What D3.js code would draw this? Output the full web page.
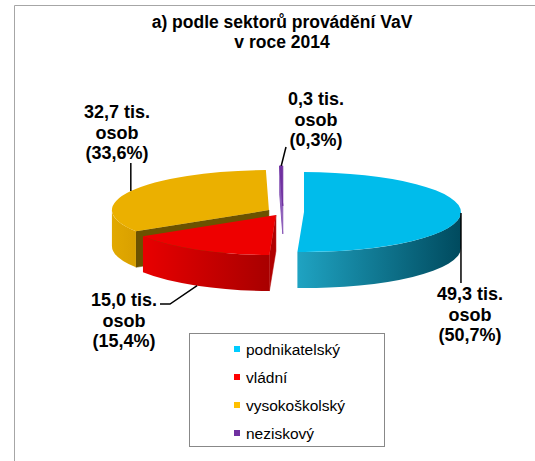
<!DOCTYPE html>
<html>
<head>
<meta charset="utf-8">
<script src="https://cdn.jsdelivr.net/npm/d3@7"></script>
<style>
  body { margin: 0; background: #fff; }
  text { font-family: Arial, "Liberation Sans", sans-serif; }
</style>
</head>
<body>
<div class="container"></div>
<script>
// data
var sectors = ["podnikatelský", "vládní", "vysokoškolský", "neziskový"];
var values = [49.3, 15.0, 32.7, 0.3];          // tis. osob
var topColors = ["#00BCEB", "#EE0000", "#EBB000", "#7030A0"];
var legendColors = ["#00CCFF", "#FF0000", "#FFC000", "#7030A0"];
var wallLeft = ["#1FA3C2", "#E80000", "#E2A900", "#7030A0"];
var wallRight = ["#004A5E", "#A80000", "#D9A000", "#5A2080"];
var cutColors = ["#00607A", "#B00000", "#6B5200", "#8A5AB8"];
var explode = [21, 14, 16, 24];

var width = 535, height = 461;
var cx = 283, cy = 212, rx = 157, ry = 40, depth = 36;

var svg = d3.select(".container").append("svg")
    .attr("width", width).attr("height", height);

// frame
svg.append("path")
    .attr("d", "M14.5," + height + "V5.5H" + width)
    .attr("fill", "none").attr("stroke", "#A6A6A6").attr("stroke-width", 1);

// title
var title = svg.append("text").attr("text-anchor", "middle")
    .style("font-weight", "bold").style("font-size", "17.5px").attr("fill", "#000");
title.append("tspan").attr("x", 282).attr("y", 28).text("a) podle sektorů provádění VaV");
title.append("tspan").attr("x", 282).attr("y", 48).text("v roce 2014");

var total = d3.sum(values);
var pie = d3.pie().sort(null).value(function(d) { return d; });
var arcs = pie(values);

function pt(ox, oy, a, dz) {
  return [ox + rx * Math.sin(a), oy - ry * Math.cos(a) + (dz || 0)];
}

var slices = arcs.map(function(d, i) {
  var m = (d.startAngle + d.endAngle) / 2;
  var ox = cx + explode[i] * Math.sin(m);
  var oy = cy - explode[i] * Math.cos(m) * (ry / rx);
  return { i: i, a: d.startAngle, b: d.endAngle, m: m, ox: ox, oy: oy };
});

var defs = svg.append("defs");

var gCut = svg.append("g"), gWall = svg.append("g"), gTop = svg.append("g");

slices.forEach(function(s) {
  var i = s.i;
  // cut faces
  function cut(ang) {
    var p = pt(s.ox, s.oy, ang);
    var d = i == 3 ? depth - 8 : depth;
    gCut.append("path")
      .attr("d", "M" + s.ox + "," + s.oy + "L" + p + "L" + [p[0], p[1] + d] +
            "L" + [s.ox, s.oy + d] + "Z")
      .attr("fill", cutColors[i]).attr("stroke", cutColors[i]).attr("stroke-width", i == 3 ? 1 : 0.5);
  }
  if (Math.sin(s.a) < -1e-6) cut(s.a);
  if (Math.sin(s.b) > 1e-6) cut(s.b);

  // outer wall (front half only)
  var ws = Math.max(s.a, Math.PI / 2), we = Math.min(s.b, 3 * Math.PI / 2);
  if (ws < we) {
    var p1 = pt(s.ox, s.oy, ws), p2 = pt(s.ox, s.oy, we);
    var gid = "wall" + i;
    var x0 = d3.min([p1[0], p2[0]]), x1 = d3.max([p1[0], p2[0]]);
    if (ws <= Math.PI / 2 + 1e-6) x1 = s.ox + rx;
    if (we >= 3 * Math.PI / 2 - 1e-6) x0 = s.ox - rx;
    var grad = defs.append("linearGradient").attr("id", gid)
      .attr("gradientUnits", "userSpaceOnUse")
      .attr("x1", x0).attr("y1", 0).attr("x2", x1).attr("y2", 0);
    grad.append("stop").attr("offset", 0).attr("stop-color", wallLeft[i]);
    grad.append("stop").attr("offset", 1).attr("stop-color", wallRight[i]);
    var large = (we - ws) > Math.PI ? 1 : 0;
    gWall.append("path")
      .attr("d", "M" + p1 + "A" + rx + "," + ry + " 0 " + large + " 1 " + p2 +
            "L" + [p2[0], p2[1] + depth] +
            "A" + rx + "," + ry + " 0 " + large + " 0 " + [p1[0], p1[1] + depth] + "Z")
      .attr("fill", "url(#" + gid + ")");
  }

  // top face
  var pa = pt(s.ox, s.oy, s.a), pb = pt(s.ox, s.oy, s.b);
  var lg = (s.b - s.a) > Math.PI ? 1 : 0;
  gTop.append("path")
    .attr("d", "M" + s.ox + "," + s.oy + "L" + pa + "A" + rx + "," + ry + " 0 " + lg + " 1 " + pb + "Z")
    .attr("fill", topColors[i])
    .attr("stroke", i == 3 ? topColors[i] : "none").attr("stroke-width", 1);
});

// data labels with leader lines
var fmt = function(v) { return d3.format(".1f")(v).replace(".", ","); };
var labelPos = [
  { x: 470, y: 300, top: false, path: function(p) { return [p, [p[0], 283]]; } },
  { x: 124, y: 306, top: false, path: function(p) { return [p, [170, 304], [160, 304]]; } },
  { x: 117, y: 118, top: true, path: function(p) { return [p, [p[0], 163]]; } },
  { x: 316, y: 105, top: true, path: function(p) { return [p, [286, 147]]; } }
];

slices.forEach(function(s) {
  var i = s.i, L = labelPos[i];
  var anchor = pt(s.ox, s.oy, s.m, i == 1 ? depth : 0);
  svg.append("path")
    .attr("d", d3.line()(L.path(anchor)))
    .attr("fill", "none").attr("stroke", "#000").attr("stroke-width", 1.5);
  var t = svg.append("text").attr("text-anchor", "middle")
    .style("font-weight", "bold").style("font-size", "18px").attr("fill", "#000");
  var lines = [fmt(values[i]) + " tis.", "osob", "(" + fmt(values[i] / total * 100) + "%)"];
  lines.forEach(function(l, k) {
    t.append("tspan").attr("x", L.x).attr("y", L.y + k * 20.5).text(l);
  });
});

// legend
var lgd = svg.append("g");
lgd.append("rect").attr("x", 189.5).attr("y", 333.5).attr("width", 195).attr("height", 113)
  .attr("fill", "#fff").attr("stroke", "#888").attr("stroke-width", 1);
var ly = d3.scalePoint().domain(sectors).range([349, 433]);
sectors.forEach(function(name, i) {
  lgd.append("rect").attr("x", 234).attr("y", ly(name) - 3).attr("width", 6).attr("height", 6)
    .attr("fill", legendColors[i]);
  lgd.append("text").attr("x", 246).attr("y", ly(name) + 5.5)
    .style("font-size", "15.5px").attr("fill", "#000").text(name);
});
</script>
</body>
</html>
